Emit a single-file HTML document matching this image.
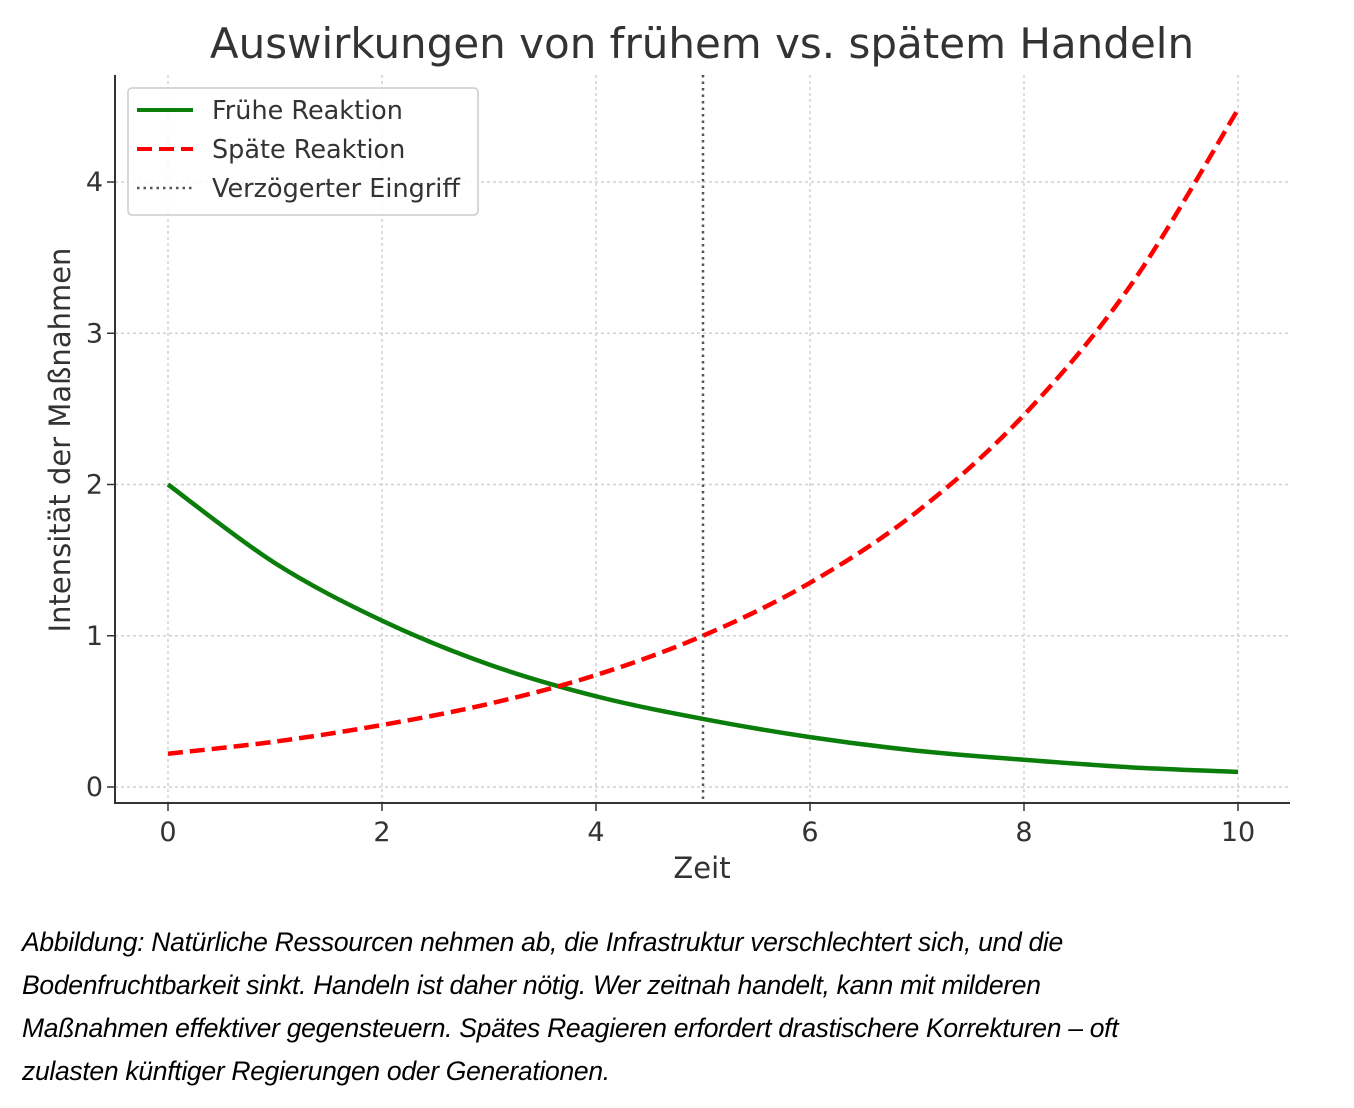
<!DOCTYPE html>
<html><head><meta charset="utf-8"><style>
body{margin:0;background:#fff;width:1354px;height:1108px;overflow:hidden;font-family:"DejaVu Sans","Liberation Sans",sans-serif}
#cap{position:absolute;left:22px;top:921px;width:1330px;white-space:nowrap;font-family:"Liberation Sans",sans-serif;font-style:italic;font-size:26.5px;line-height:43px;color:#000;letter-spacing:-0.3px}
</style></head><body>
<svg id="chart" width="1354" height="900" style="position:absolute;left:0;top:0"></svg>
<div id="cap">Abbildung: Natürliche Ressourcen nehmen ab, die Infrastruktur verschlechtert sich, und die<br>Bodenfruchtbarkeit sinkt. Handeln ist daher nötig. Wer zeitnah handelt, kann mit milderen<br>Maßnahmen effektiver gegensteuern. Spätes Reagieren erfordert drastischere Korrekturen – oft<br>zulasten künftiger Regierungen oder Generationen.</div>
<script>
const times=[0,1,2,3,4,5,6,7,8,9,10];
const earlyValues=[2.00,1.48,1.10,0.81,0.60,0.45,0.33,0.24,0.18,0.13,0.10];
const lateValues=[0.22,0.30,0.41,0.55,0.74,1.00,1.35,1.82,2.46,3.32,4.48];
const xTicks=[0,2,4,6,8,10];
const yTicks=[0,1,2,3,4];
const delayX=5;
const NS="http://www.w3.org/2000/svg";
const svg=document.getElementById('chart');
const L=115,R=1290,T=75,B=803;
const xs=v=>168+v*107;
const ys=v=>787-v*151.25;
function mk(tag,attrs,parent){const e=document.createElementNS(NS,tag);for(const k in attrs)e.setAttribute(k,attrs[k]);(parent||svg).appendChild(e);return e;}
xTicks.forEach(t=>{const g=mk('line',{x1:xs(t),x2:xs(t),y1:T,y2:B,stroke:'#d0d0d0','stroke-width':1.5,'stroke-dasharray':'3,3'});

const tk=mk('line',{x1:xs(t),x2:xs(t),y1:B,y2:B+8,stroke:'#333','stroke-width':1.5});

const tx=mk('text',{x:xs(t),y:B+38,'text-anchor':'middle','font-size':27,fill:'#333'});tx.textContent=t;
});
yTicks.forEach(t=>{const g=mk('line',{x1:L,x2:R,y1:ys(t),y2:ys(t),stroke:'#d0d0d0','stroke-width':1.5,'stroke-dasharray':'3,3'});

const tk=mk('line',{x1:L-8,x2:L,y1:ys(t),y2:ys(t),stroke:'#333','stroke-width':1.5});

const tx=mk('text',{x:L-12,y:ys(t)+9,'text-anchor':'end','font-size':27,fill:'#333'});tx.textContent=t;
});
const dl=mk('line',{x1:xs(delayX),x2:xs(delayX),y1:T,y2:B,stroke:'#555','stroke-width':2.5,'stroke-dasharray':'2.5,4'});

function pathD(xv,yv){const p=xv.map((x,i)=>[xs(x),ys(yv[i])]);let d='M'+p[0][0]+','+p[0][1];
for(let i=0;i<p.length-1;i++){const p0=p[Math.max(0,i-1)],p1=p[i],p2=p[i+1],p3=p[Math.min(p.length-1,i+2)];
d+=` C${p1[0]+(p2[0]-p0[0])/6},${p1[1]+(p2[1]-p0[1])/6} ${p2[0]-(p3[0]-p1[0])/6},${p2[1]-(p3[1]-p1[1])/6} ${p2[0]},${p2[1]}`;}return d;}
const g1=mk('path',{d:pathD(times,earlyValues),fill:'none',stroke:'#0a7d0a','stroke-width':4.5});

const r1=mk('path',{d:pathD(times,lateValues),fill:'none',stroke:'#ff0000','stroke-width':4.5,'stroke-dasharray':'15,7'});

const sp=mk('path',{d:`M${L},${T} L${L},${B} L${R},${B}`,fill:'none',stroke:'#333','stroke-width':2});

const ti=mk('text',{x:702,y:58,'text-anchor':'middle','font-size':42,fill:'#333'});ti.textContent='Auswirkungen von frühem vs. spätem Handeln';

const xl=mk('text',{x:702,y:878,'text-anchor':'middle','font-size':29,fill:'#333'});xl.textContent='Zeit';

const yl=mk('text',{x:0,y:0,'text-anchor':'middle','font-size':29,fill:'#333',transform:'translate(70,440) rotate(-90)'});yl.textContent='Intensität der Maßnahmen';

const lg=mk('g',{});
mk('rect',{x:128,y:88,width:350,height:127,rx:4,fill:'#fff','fill-opacity':0.85,stroke:'#ccc','stroke-width':1.5},lg);
const items=[['Frühe Reaktion','#0a7d0a','none',4],['Späte Reaktion','#ff0000','15,7',4],['Verzögerter Eingriff','#555','2.5,4',2.5]];
items.forEach((it,i)=>{const y=110+i*39;const e=mk('g',{},lg);
mk('line',{x1:137,x2:193,y1:y,y2:y,stroke:it[1],'stroke-width':it[3],'stroke-dasharray':it[2]},e);
const t=mk('text',{x:212,y:y+9,'font-size':25.5,fill:'#333'},e);t.textContent=it[0];});
</script>
</body></html>
